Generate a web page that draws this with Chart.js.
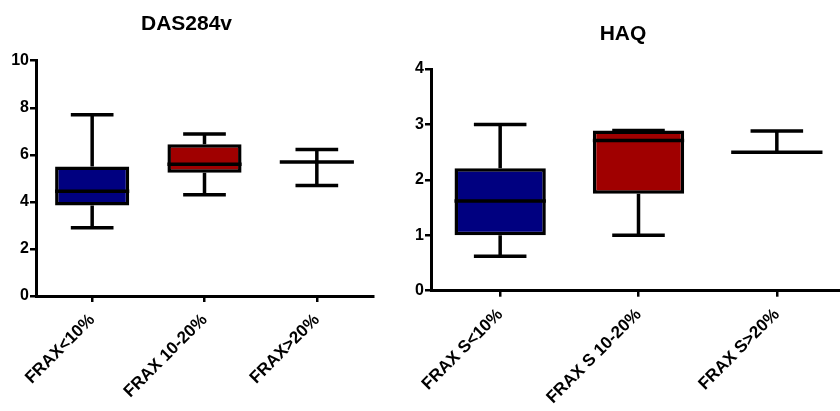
<!DOCTYPE html>
<html>
<head>
<meta charset="utf-8">
<script src="https://cdn.jsdelivr.net/npm/chart.js@4.4.0/dist/chart.umd.min.js"></script>
<style>
  html, body { margin: 0; padding: 0; background: #fff; overflow: hidden; width: 840px; height: 411px; }
  .panel { position: absolute; top: 0; height: 411px; }
  #das { left: 0; width: 382px; }
  #haq { left: 400px; width: 446px; }
</style>
</head>
<body>
<div class="panel" id="das"><canvas id="chartDas"></canvas></div>
<div class="panel" id="haq"><canvas id="chartHaq"></canvas></div>
<script>
// DAS284v por grupo FRAX
const dasLabels = ["FRAX<10%", "FRAX 10-20%", "FRAX>20%"];
const dasMin = [2.9, 4.3, 4.7];
const dasQ1 = [3.85, 5.24, 5.7];
const dasMediana = [4.45, 5.6, 5.7];
const dasQ3 = [5.5, 6.45, 5.7];
const dasMax = [7.7, 6.88, 6.23];
const dasTicks = [0, 2, 4, 6, 8, 10];

// HAQ por grupo FRAX S
const haqLabels = ["FRAX S<10%", "FRAX S 10-20%", "FRAX S>20%"];
const haqMin = [0.62, 1.0, 2.5];
const haqQ1 = [1.0, 1.75, 2.5];
const haqMediana = [1.62, 2.71, 2.5];
const haqQ3 = [2.21, 2.89, 2.5];
const haqMax = [3.0, 2.89, 2.88];
const haqTicks = [0, 1, 2, 3, 4];

const colores = ["#000080", "#a00000", "#ffffff"];
const fuente = "'Liberation Sans', Arial, sans-serif";
const grosor = 3.5;

// dibuja bigotes, tapas y mediana encima de las barras flotantes
const bigotes = {
  id: "bigotes",
  afterDatasetsDraw(chart, args, opts) {
    const ctx = chart.ctx;
    const x = chart.scales.x;
    const y = chart.scales.y;
    const meta = chart.getDatasetMeta(0);
    const ancho = x.width / opts.min.length;
    ctx.save();
    ctx.strokeStyle = "#000";
    ctx.lineWidth = grosor;
    ctx.lineCap = "butt";
    opts.min.forEach((v, i) => {
      const cx = x.getPixelForValue(i);
      const barra = meta.data[i];
      const medioAncho = barra.width / 2;
      const tapa = ancho * 0.19;
      ctx.beginPath();
      // bigote inferior
      ctx.moveTo(cx, y.getPixelForValue(opts.q1[i]));
      ctx.lineTo(cx, y.getPixelForValue(v));
      ctx.moveTo(cx - tapa, y.getPixelForValue(v));
      ctx.lineTo(cx + tapa, y.getPixelForValue(v));
      // bigote superior
      ctx.moveTo(cx, y.getPixelForValue(opts.q3[i]));
      ctx.lineTo(cx, y.getPixelForValue(opts.max[i]));
      ctx.moveTo(cx - tapa, y.getPixelForValue(opts.max[i]));
      ctx.lineTo(cx + tapa, y.getPixelForValue(opts.max[i]));
      // mediana
      ctx.moveTo(cx - medioAncho, y.getPixelForValue(opts.mediana[i]));
      ctx.lineTo(cx + medioAncho, y.getPixelForValue(opts.mediana[i]));
      ctx.stroke();
    });
    ctx.restore();
  }
};

function crearGrafico(id, titulo, labels, min, q1, mediana, q3, max, ticks, medidas) {
  const ctx = document.getElementById(id);
  if (!ctx) {
    console.error("Canvas element '" + id + "' not found");
    return;
  }
  new Chart(ctx, {
    type: "bar",
    data: {
      labels: labels,
      datasets: [{
        data: labels.map((l, i) => [q1[i], q3[i]]),
        backgroundColor: colores,
        borderColor: "#000",
        borderWidth: grosor,
        borderSkipped: false,
        barPercentage: 0.66,
        categoryPercentage: 1.0
      }]
    },
    options: {
      responsive: true,
      maintainAspectRatio: false,
      animation: false,
      layout: { padding: { top: 0, right: medidas.derecha, bottom: 0, left: 0 } },
      plugins: {
        legend: { display: false },
        tooltip: { enabled: false },
        title: {
          display: true,
          text: titulo,
          color: "#000",
          font: { family: fuente, size: 21, weight: "bold", lineHeight: 1.2 },
          padding: { top: medidas.tituloArriba, bottom: medidas.tituloAbajo }
        },
        bigotes: { min: min, q1: q1, mediana: mediana, q3: q3, max: max }
      },
      scales: {
        x: {
          offset: true,
          grid: { offset: false, drawOnChartArea: false, drawTicks: true, tickLength: 6, lineWidth: 2.5, color: "#000" },
          border: { display: true, color: "#000", width: 3 },
          ticks: {
            color: "#000",
            minRotation: 45,
            maxRotation: 45,
            padding: 8,
            font: { family: fuente, size: 17, weight: "bold" }
          },
          afterFit: s => { s.height = medidas.altoX; }
        },
        y: {
          min: 0,
          max: ticks[ticks.length - 1],
          afterBuildTicks: s => { s.ticks = ticks.map(v => ({ value: v })); },
          grid: { drawOnChartArea: false, drawTicks: true, tickLength: 6, lineWidth: 2.5, color: "#000" },
          border: { display: true, color: "#000", width: 3 },
          ticks: {
            color: "#000",
            padding: 1,
            font: { family: fuente, size: 16, weight: "bold" }
          },
          afterFit: s => { s.width = medidas.anchoY; }
        }
      }
    },
    plugins: [bigotes]
  });
}

document.addEventListener("DOMContentLoaded", () => {
  crearGrafico("chartDas", "DAS284v", dasLabels, dasMin, dasQ1, dasMediana, dasQ3, dasMax, dasTicks,
    { derecha: 9, tituloArriba: 12, tituloAbajo: 23.5, altoX: 115, anchoY: 36 });
  crearGrafico("chartHaq", "HAQ", haqLabels, haqMin, haqQ1, haqMediana, haqQ3, haqMax, haqTicks,
    { derecha: 0, tituloArriba: 21.4, tituloAbajo: 22.4, altoX: 120.3, anchoY: 31 });
});
</script>
</body>
</html>
